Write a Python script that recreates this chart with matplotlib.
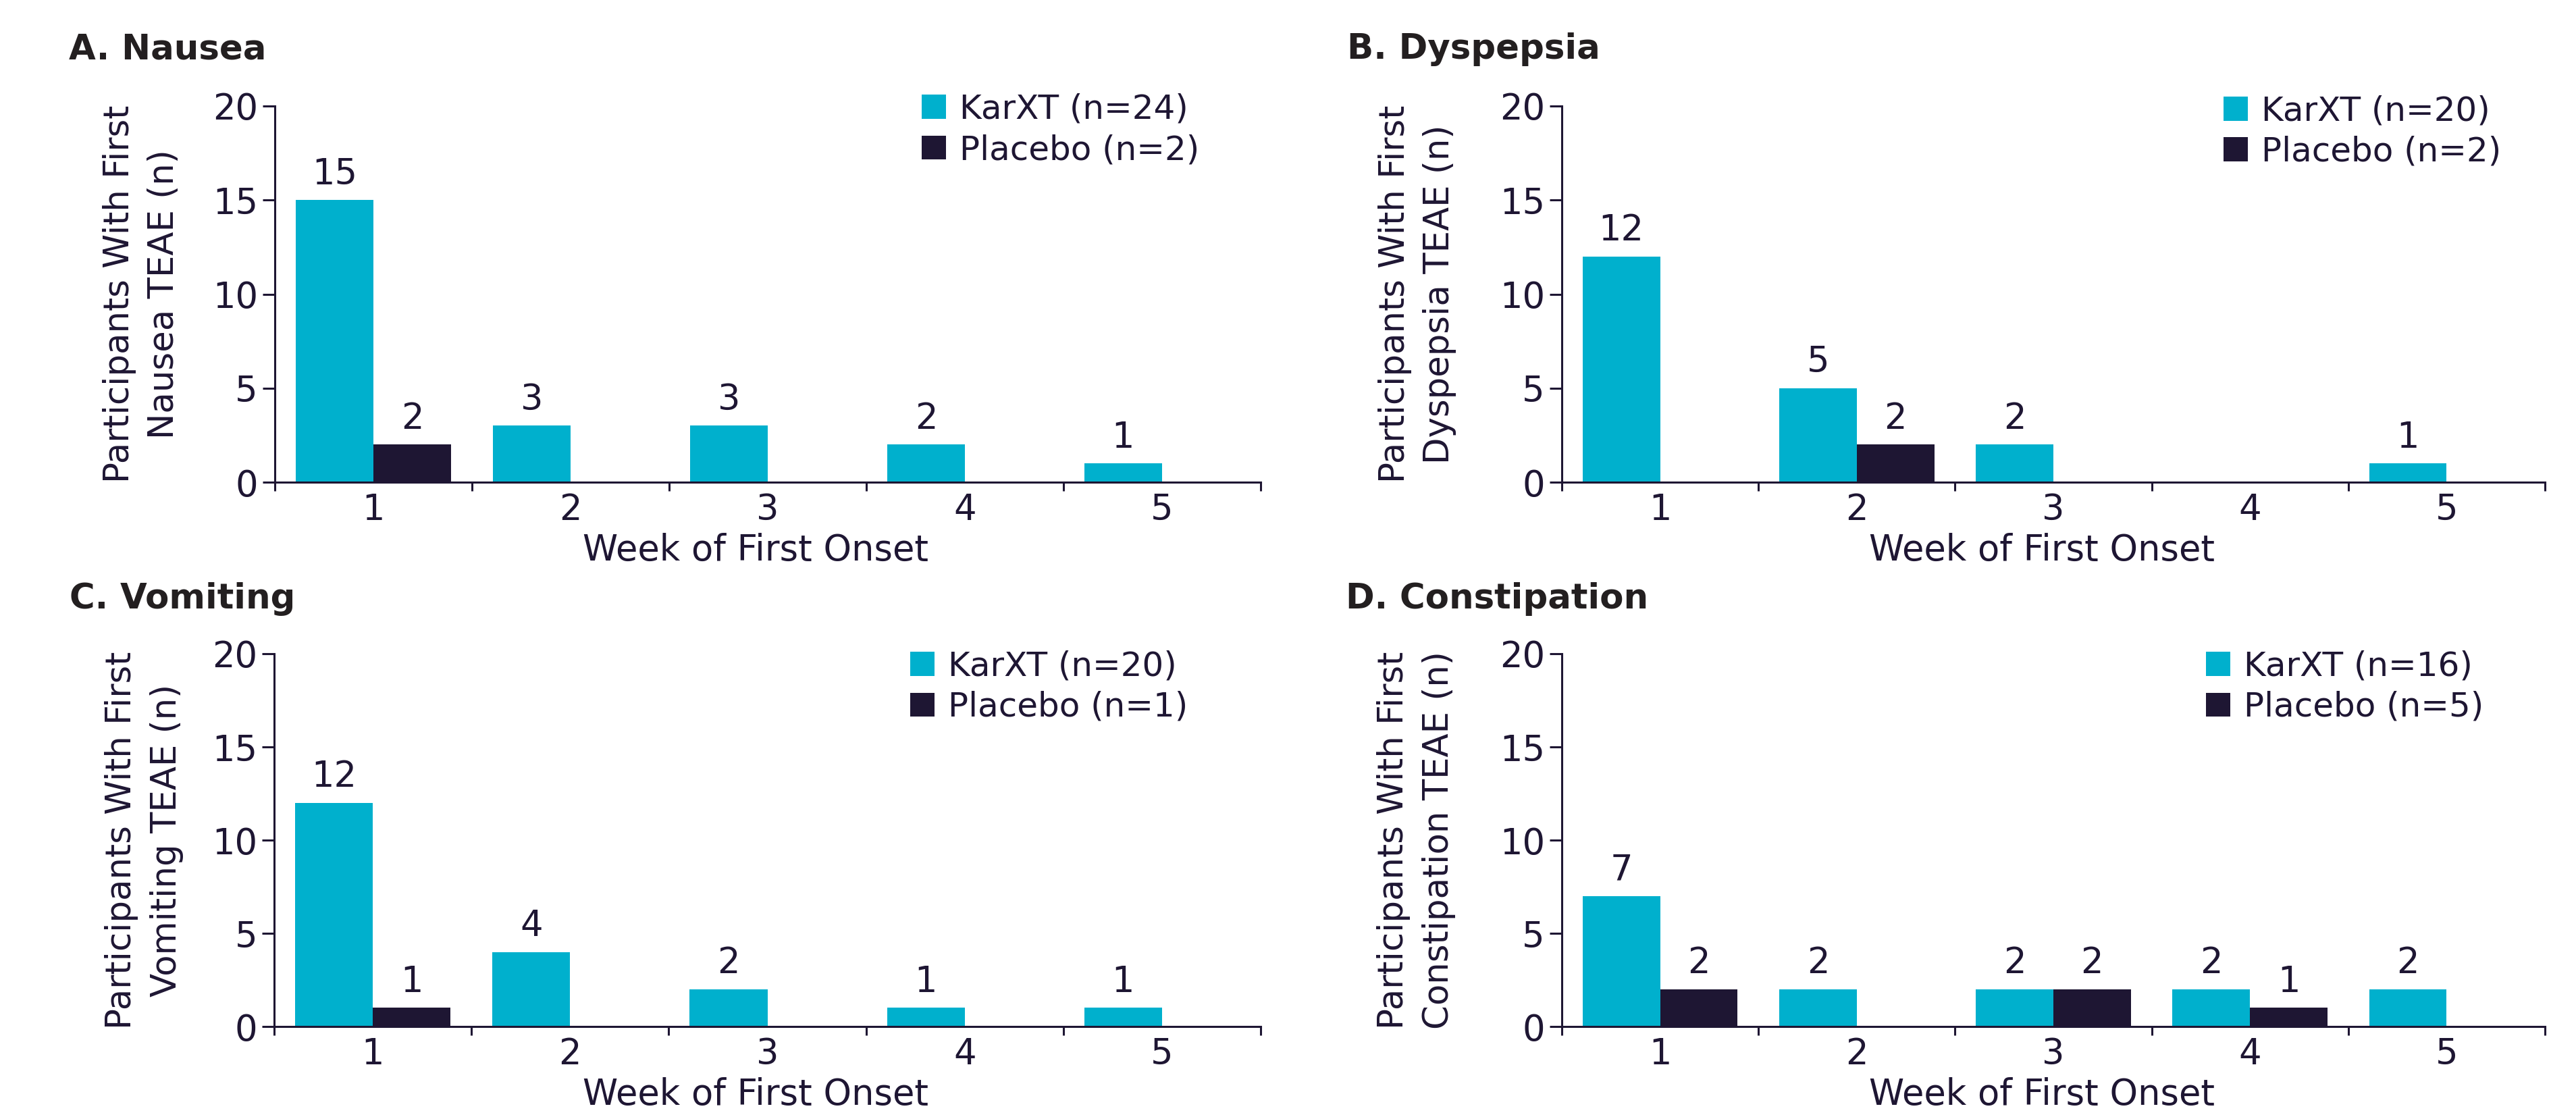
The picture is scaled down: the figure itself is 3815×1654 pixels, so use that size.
import numpy as np
import matplotlib
matplotlib.use("Agg")
import matplotlib.pyplot as plt
from matplotlib.ticker import FixedLocator

# data
weeks = [1, 2, 3, 4, 5]
titles = ["A. Nausea", "B. Dyspepsia", "C. Vomiting", "D. Constipation"]
ylabels = ["Participants With First\nNausea TEAE (n)",
           "Participants With First\nDyspepsia TEAE (n)",
           "Participants With First\nVomiting TEAE (n)",
           "Participants With First\nConstipation TEAE (n)"]
karxt = [[15, 3, 3, 2, 1],
         [12, 5, 2, 0, 1],
         [12, 4, 2, 1, 1],
         [7, 2, 2, 2, 2]]
placebo = [[2, 0, 0, 0, 0],
           [0, 2, 0, 0, 0],
           [1, 0, 0, 0, 0],
           [2, 0, 2, 1, 0]]
karxt_n = [24, 20, 20, 16]
placebo_n = [2, 2, 1, 5]

CYAN = "#00B0CD"
NAVY = "#1E1633"
TITLE = "#231F20"

W, H = 3815, 1654
fig = plt.figure(figsize=(W / 100, H / 100), dpi=100)
plt.rcParams["font.family"] = ["DejaVu Sans"]

# axes boxes in pixels: left, right, top, bottom
boxes = [(407, 1867, 157, 714), (2313, 3769, 157, 714),
         (406, 1867, 968, 1520), (2313, 3769, 968, 1520)]
title_pos = [(102, 87), (1995, 87), (103, 901), (1993, 901)]
leg_pos = [(0.656, 1.035), (0.673, 1.03), (0.645, 1.01), (0.655, 1.01)]
ylab_x = [-0.095, -0.107, -0.092, -0.108]

x = np.array(weeks)
bw = 0.394

for i in range(4):
    l, r, t, b = boxes[i]
    ax = fig.add_axes([l / W, 1 - b / H, (r - l) / W, (b - t) / H])
    ax.bar(x - bw / 2, karxt[i], bw, color=CYAN, label=f"KarXT (n={karxt_n[i]})")
    ax.bar(x + bw / 2, placebo[i], bw, color=NAVY, label=f"Placebo (n={placebo_n[i]})")
    for c in ax.containers:
        ax.bar_label(c, labels=[str(int(v)) if v else "" for v in c.datavalues],
                     padding=9, fontsize=38, color=NAVY)

    ax.set_xlim(0.5, 5.5)
    ax.set_ylim(0, 20)
    ax.set_yticks([0, 5, 10, 15, 20])
    ax.xaxis.set_major_locator(FixedLocator([0.5, 1.5, 2.5, 3.5, 4.5, 5.5]))
    ax.xaxis.set_minor_locator(FixedLocator(weeks))
    ax.set_xticklabels([])
    ax.set_xticklabels([str(w) for w in weeks], minor=True)
    ax.tick_params(axis="x", which="major", length=9.5, width=2.2, color=NAVY)
    ax.tick_params(axis="x", which="minor", length=0, pad=11, labelsize=38, labelcolor=NAVY)
    ax.tick_params(axis="y", length=13, width=2.2, pad=5, labelsize=38, color=NAVY, labelcolor=NAVY)

    for s in ["top", "right"]:
        ax.spines[s].set_visible(False)
    for s in ["left", "bottom"]:
        ax.spines[s].set_linewidth(2.2)
        ax.spines[s].set_color(NAVY)

    ax.set_xlabel("Week of First Onset", fontsize=38, color=NAVY)
    ax.xaxis.set_label_coords(0.488, -0.135)
    ax.set_ylabel(ylabels[i], fontsize=37, color=NAVY, linespacing=1.42)
    ax.yaxis.set_label_coords(ylab_x[i], 0.5)

    ax.legend(loc="upper left", bbox_to_anchor=leg_pos[i], frameon=False,
              fontsize=36, borderpad=0, borderaxespad=0, handlelength=0.72,
              handleheight=0.72, handletextpad=0.4, labelspacing=0.25,
              labelcolor=NAVY)

    tx, ty = title_pos[i]
    fig.text(tx / W, 1 - ty / H, titles[i], fontsize=37, fontweight="bold",
             color=TITLE, va="baseline", ha="left")

fig.savefig("out.png", dpi=100, facecolor="white")
